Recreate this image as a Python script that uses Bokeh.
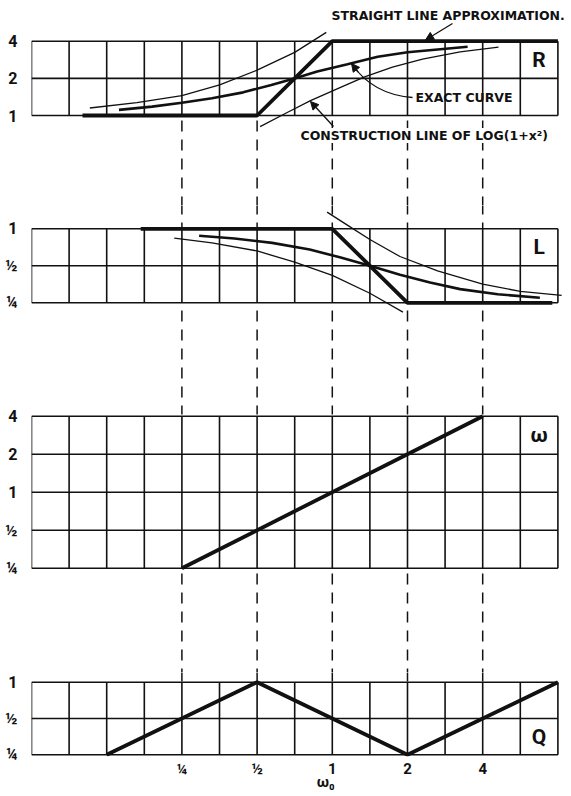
import math
from bokeh.plotting import figure
from bokeh.layouts import column
from bokeh.models import Range1d, FixedTicker, Label, Arrow, NormalHead, LogAxis
from bokeh.embed import file_html
from bokeh.resources import INLINE

# ---------------- data ----------------
# half-octave column lines of the omega0 scale, 1/16 ... 8
COLUMN_OMEGA0 = [0.0625, 0.0884, 0.125, 0.1768, 0.25, 0.3536, 0.5, 0.7071,
                 1.0, 1.414, 2.0, 2.828, 4.0, 5.657, 8.0]
OMEGA0_TICKS = [0.25, 0.5, 1, 2, 4]
OMEGA0_LABELS = ["¼", "½", "1", "2", "4"]
OMEGA0_TITLE = "ω₀"
OMEGA0_TITLE_AT = 0.94

R_TICKS = [1, 2, 4]
R_LABELS = ["1", "2", "4"]
L_TICKS = [0.25, 0.5, 1]
L_LABELS = ["¼", "½", "1"]
W_TICKS = [0.25, 0.5, 1, 2, 4]
W_LABELS = ["¼", "½", "1", "2", "4"]
Q_TICKS = [0.25, 0.5, 1]
Q_LABELS = ["¼", "½", "1"]

# R panel
R_APPROX_X = [0.1, 0.5, 1.0, 8.0]
R_APPROX_Y = [1.0, 1.0, 4.0, 4.0]
R_EXACT_X = [0.14, 0.19, 0.25, 0.33, 0.44, 0.57, 0.71, 0.87, 1.15, 1.52, 2.0, 2.64, 3.48]
R_EXACT_Y = [1.11, 1.18, 1.27, 1.38, 1.54, 1.77, 2.0, 2.27, 2.60, 2.99, 3.25, 3.43, 3.61]
R_CONSTR_LEFT_X = [0.107, 0.165, 0.25, 0.354, 0.5, 0.707, 0.946]
R_CONSTR_LEFT_Y = [1.15, 1.27, 1.45, 1.77, 2.33, 3.25, 4.72]
R_CONSTR_RIGHT_X = [0.514, 0.66, 0.818, 1.079, 1.347, 1.741, 2.297, 3.249, 4.627]
R_CONSTR_RIGHT_Y = [0.812, 1.057, 1.32, 1.693, 2.056, 2.462, 2.868, 3.272, 3.58]

# L panel
L_APPROX_X = [0.171, 1.0, 2.0, 7.6]
L_APPROX_Y = [1.0, 1.0, 0.25, 0.25]
L_EXACT_X = [0.293, 0.406, 0.574, 0.812, 1.072, 1.414, 1.866, 2.462, 3.249, 4.595, 6.774]
L_EXACT_Y = [0.877, 0.835, 0.768, 0.678, 0.586, 0.5, 0.423, 0.366, 0.323, 0.293, 0.275]
L_CONSTR_LEFT_X = [0.233, 0.33, 0.5, 0.707, 1.0, 1.414, 1.918]
L_CONSTR_LEFT_Y = [0.841, 0.768, 0.66, 0.536, 0.418, 0.299, 0.21]
L_CONSTR_RIGHT_X = [0.953, 1.149, 1.414, 1.866, 2.639, 4.0, 5.657, 8.28]
L_CONSTR_RIGHT_Y = [1.366, 1.072, 0.818, 0.595, 0.454, 0.354, 0.31, 0.287]

# omega panel
W_X = [0.25, 4.0]
W_Y = [0.25, 4.0]

# Q panel
Q_X = [0.125, 0.5, 2.0, 8.0]
Q_Y = [0.25, 1.0, 0.25, 1.0]

# ---------------- layout (page pixels) ----------------
FONT = "Roboto"
ANN_FONT = "DejaVu Sans"
INK = "#111111"
GRID_LEFT_PX = 31
GRID_RIGHT_PX = 557.4
FRAME_RIGHT_PX = 571
PX_PER_OCT_X = (GRID_RIGHT_PX - GRID_LEFT_PX) / math.log2(COLUMN_OMEGA0[-1] / COLUMN_OMEGA0[0])

x_range = Range1d(COLUMN_OMEGA0[0],
                  COLUMN_OMEGA0[-1] * 2 ** ((FRAME_RIGHT_PX - GRID_RIGHT_PX) / PX_PER_OCT_X))


def to_x(px):
    return COLUMN_OMEGA0[0] * 2 ** ((px - GRID_LEFT_PX) / PX_PER_OCT_X)


GRID_W = 1.6
THICK_W = 3.8
EXACT_W = 2.6
THIN_W = 1.3
DASH = "11 8"


def style_labels(ax, size):
    ax.axis_line_color = None
    ax.major_tick_line_color = None
    ax.minor_tick_line_color = None
    ax.major_label_text_font = FONT
    ax.major_label_text_font_style = "bold"
    ax.major_label_text_font_size = size
    ax.major_label_text_color = INK


def build_panel(f_top, f_bot, p_hi, p_lo, ticks, labels, guides, bottom_border=0):
    v_lo, v_hi = ticks[0], ticks[-1]
    s = (p_lo - p_hi) / math.log2(v_hi / v_lo)

    def to_y(py):
        return v_hi * 2 ** ((p_hi - py) / s)

    p = figure(frame_width=FRAME_RIGHT_PX - GRID_LEFT_PX, frame_height=f_bot - f_top,
               x_axis_type="log", y_axis_type="log",
               x_range=x_range, y_range=Range1d(to_y(f_bot), to_y(f_top)),
               output_backend="svg", toolbar_location=None,
               x_axis_location="below" if bottom_border else None,
               min_border_left=GRID_LEFT_PX, min_border_right=0,
               min_border_top=0, min_border_bottom=bottom_border)
    p.outline_line_color = None
    p.xgrid.visible = False
    p.ygrid.visible = False
    p.background_fill_color = "white"
    p.border_fill_color = "white"

    ya = p.yaxis[0]
    ya.ticker = FixedTicker(ticks=ticks)
    ya.major_label_overrides = dict(zip(ticks, labels))
    ya.major_label_standoff = 8
    style_labels(ya, "16px")

    # grid of the panel
    n = len(COLUMN_OMEGA0)
    p.segment(x0=COLUMN_OMEGA0, y0=[v_lo] * n, x1=COLUMN_OMEGA0, y1=[v_hi] * n,
              line_color=INK, line_width=GRID_W)
    m = len(ticks)
    p.segment(x0=[COLUMN_OMEGA0[0]] * m, y0=ticks, x1=[COLUMN_OMEGA0[-1]] * m, y1=ticks,
              line_color=INK, line_width=GRID_W)

    # dashed guide lines at the omega0 ticks
    k = len(OMEGA0_TICKS)
    for a, b in guides:
        p.segment(x0=OMEGA0_TICKS, y0=[to_y(a)] * k, x1=OMEGA0_TICKS, y1=[to_y(b)] * k,
                  line_color=INK, line_width=1.5, line_dash=DASH)
    return p, to_y


def panel_letter(p, text, y_cell):
    p.add_layout(Label(x=math.sqrt(COLUMN_OMEGA0[-2] * COLUMN_OMEGA0[-1]),
                       y=math.sqrt(y_cell[0] * y_cell[1]), text=text,
                       text_align="center", text_baseline="middle",
                       text_font=FONT, text_font_style="bold",
                       text_font_size="21px", text_color=INK))


# ---------- R ----------
pR, yR = build_panel(0, 205, 40.7, 115.0, R_TICKS, R_LABELS, [(120, 207)])
pR.line(R_CONSTR_LEFT_X, R_CONSTR_LEFT_Y, line_color=INK, line_width=THIN_W)
pR.line(R_CONSTR_RIGHT_X, R_CONSTR_RIGHT_Y, line_color=INK, line_width=THIN_W)
pR.line(R_EXACT_X, R_EXACT_Y, line_color=INK, line_width=EXACT_W)
pR.line(R_APPROX_X, R_APPROX_Y, line_color=INK, line_width=THICK_W)
panel_letter(pR, "R", (R_TICKS[1], R_TICKS[2]))

ANN = dict(text_font=ANN_FONT, text_font_style="bold", text_font_size="12.5px",
           text_color=INK, text_baseline="middle")
pR.add_layout(Label(x=to_x(331), y=yR(15), text="STRAIGHT LINE APPROXIMATION.", **ANN))
pR.add_layout(Arrow(x_start=to_x(452), y_start=yR(23), x_end=to_x(425), y_end=yR(39.5),
                    line_color=INK, line_width=1.3,
                    end=NormalHead(size=8, fill_color=INK, line_color=INK)))

pR.add_layout(Label(x=to_x(415), y=yR(97), text="EXACT CURVE", **ANN))
# curved leader of "EXACT CURVE"
P0, C0, P1 = (412.0, 97.0), (372.0, 94.0), (351.0, 63.0)


def qpt(t):
    return tuple((1 - t) ** 2 * P0[i] + 2 * (1 - t) * t * C0[i] + t ** 2 * P1[i] for i in range(2))


pR.quadratic(x0=[to_x(P0[0])], y0=[yR(P0[1])], x1=[to_x(P1[0])], y1=[yR(P1[1])],
             cx=[to_x(C0[0])], cy=[yR(C0[1])], line_color=INK, line_width=1.3)
q9 = qpt(0.85)
pR.add_layout(Arrow(x_start=to_x(q9[0]), y_start=yR(q9[1]), x_end=to_x(P1[0]), y_end=yR(P1[1]),
                    line_color=INK, line_width=1.3,
                    end=NormalHead(size=8, fill_color=INK, line_color=INK)))

pR.add_layout(Label(x=to_x(300), y=yR(135), text="CONSTRUCTION LINE OF LOG(1+x²)",
                    background_fill_color="white", **ANN))
pR.add_layout(Arrow(x_start=to_x(333), y_start=yR(126), x_end=to_x(310), y_end=yR(101),
                    line_color=INK, line_width=1.3,
                    end=NormalHead(size=8, fill_color=INK, line_color=INK)))

# ---------- L ----------
pL, yL = build_panel(205, 405, 228.3, 302.3, L_TICKS, L_LABELS, [(203, 228.3), (310, 407)])
pL.line(L_CONSTR_LEFT_X, L_CONSTR_LEFT_Y, line_color=INK, line_width=THIN_W)
pL.line(L_CONSTR_RIGHT_X, L_CONSTR_RIGHT_Y, line_color=INK, line_width=THIN_W)
pL.line(L_EXACT_X, L_EXACT_Y, line_color=INK, line_width=EXACT_W)
pL.line(L_APPROX_X, L_APPROX_Y, line_color=INK, line_width=THICK_W)
panel_letter(pL, "L", (L_TICKS[1], L_TICKS[2]))

# ---------- omega ----------
pW, yW = build_panel(405, 672, 415.7, 567.7, W_TICKS, W_LABELS, [(403, 415.7), (573, 674)])
pW.line(W_X, W_Y, line_color=INK, line_width=THICK_W)
panel_letter(pW, "ω", (W_TICKS[3], W_TICKS[4]))

# ---------- Q ----------
pQ, yQ = build_panel(672, 756, 681.7, 754.3, Q_TICKS, Q_LABELS, [(670, 681.7)], bottom_border=40)
pQ.line(Q_X, Q_Y, line_color=INK, line_width=THICK_W)
panel_letter(pQ, "Q", (Q_TICKS[0], Q_TICKS[1]))

xa = pQ.xaxis[0]
xa.ticker = FixedTicker(ticks=OMEGA0_TICKS)
xa.major_label_overrides = dict(zip(OMEGA0_TICKS, OMEGA0_LABELS))
xa.major_label_standoff = -3
style_labels(xa, "15px")

# second axis row below carries the omega0 title at its place on the scale
xt = LogAxis(ticker=FixedTicker(ticks=[OMEGA0_TITLE_AT]),
             major_label_overrides={OMEGA0_TITLE_AT: OMEGA0_TITLE},
             major_label_standoff=-14)
style_labels(xt, "15px")
pQ.add_layout(xt, "below")

layout = column(pR, pL, pW, pQ, spacing=0)
open("out.html", "w").write(file_html(layout, INLINE))
